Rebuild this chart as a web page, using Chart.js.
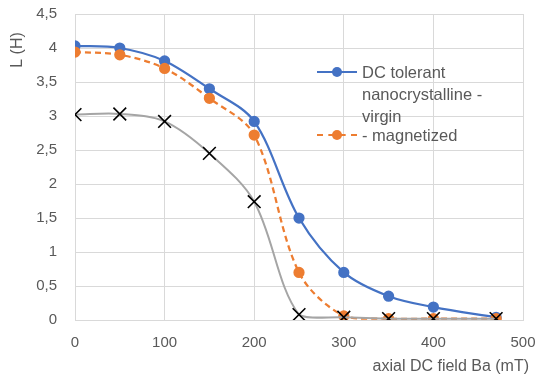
<!DOCTYPE html>
<html>
<head>
<meta charset="utf-8">
<script src="https://cdn.jsdelivr.net/npm/chart.js@4"></script>
<style>
  html, body { margin: 0; padding: 0; background: #fff; }
  #wrap { position: relative; width: 542px; height: 382px; }
  #legend { position: absolute; left: 317px; top: 61px; font-family: "Liberation Sans", sans-serif; font-size: 16.5px; color: #595959; line-height: 22px; }
  .item { position: relative; padding-left: 45px; }
  .sample { position: absolute; left: 0; top: 10px; width: 40px; height: 0; }
  .dot { position: absolute; left: 15px; top: -6px; width: 10px; height: 10px; border-radius: 50%; }
</style>
</head>
<body>
<div id="wrap">
  <canvas id="chart" width="542" height="382"></canvas>
  <div id="legend">
    <div class="item"><span class="sample" style="border-top: 2.25px solid #4472C4"><span class="dot" style="background:#4472C4"></span></span>DC tolerant<br>nanocrystalline -<br>virgin</div>
    <div class="item" style="margin-top:-3px"><span class="sample" style="border-top: 2.25px dashed #ED7D31"><span class="dot" style="background:#ED7D31"></span></span>- magnetized</div>
  </div>
</div>
<script>
const fieldValues = [0, 50, 100, 150, 200, 250, 300, 350, 400, 470]
const virginValues = [4.03, 4.0, 3.81, 3.4, 2.92, 1.5, 0.7, 0.35, 0.19, 0.04]
const magnetizedValues = [3.94, 3.9, 3.7, 3.26, 2.72, 0.7, 0.06, 0.02, 0.02, 0.02]
const referenceValues = [3.02, 3.03, 2.92, 2.45, 1.74, 0.08, 0.04, 0.02, 0.02, 0.02]
const xTicks = [0, 100, 200, 300, 400, 500]
const yTicks = [0, 0.5, 1, 1.5, 2, 2.5, 3, 3.5, 4, 4.5]
const xTitle = 'axial DC field Ba (mT)'
const yTitle = 'L (H)'

const toPoints = vals => fieldValues.map((x, i) => ({ x: x, y: vals[i] }))

// Excel-style axis titles: y at the top-left, x at the bottom-right
const axisTitles = {
    id: 'axisTitles',
    afterDraw(chart) {
        const c = chart.ctx
        c.save()
        c.fillStyle = '#595959'
        c.font = '16px "Liberation Sans"'
        c.textBaseline = 'middle'
        c.textAlign = 'right'
        c.fillText(xTitle, 529, 367)
        c.translate(18, 50)
        c.rotate(-Math.PI / 2)
        c.textAlign = 'center'
        c.fillText(yTitle, 0, 0)
        c.restore()
    }
}

document.addEventListener('DOMContentLoaded', () => {
    const ctx = document.getElementById('chart')
    new Chart(ctx, {
        type: 'scatter',
        data: {
            datasets: [
                {
                    label: 'reference',
                    data: toPoints(referenceValues),
                    showLine: true,
                    borderColor: '#A5A5A5',
                    borderWidth: 2,
                    tension: 0.33,
                    pointStyle: 'crossRot',
                    pointRadius: 9,
                    pointBorderColor: '#000000',
                    pointBorderWidth: 1.6,
                    order: 0
                },
                {
                    label: '- magnetized',
                    data: toPoints(magnetizedValues),
                    showLine: true,
                    borderColor: '#ED7D31',
                    borderWidth: 2.25,
                    borderDash: [6, 4],
                    tension: 0.33,
                    pointRadius: 4.5,
                    pointBackgroundColor: '#ED7D31',
                    pointBorderColor: '#ED7D31',
                    order: 1
                },
                {
                    label: 'DC tolerant nanocrystalline - virgin',
                    data: toPoints(virginValues),
                    showLine: true,
                    borderColor: '#4472C4',
                    borderWidth: 2.25,
                    tension: 0.33,
                    pointRadius: 4.5,
                    pointBackgroundColor: '#4472C4',
                    pointBorderColor: '#4472C4',
                    order: 2
                }
            ]
        },
        plugins: [axisTitles],
        options: {
            responsive: false,
            animation: false,
            layout: { padding: { top: 14, right: 19, left: 0, bottom: 0 } },
            plugins: {
                legend: { display: false },
                tooltip: { enabled: false }
            },
            scales: {
                x: {
                    type: 'linear',
                    min: 0,
                    max: 500,
                    afterBuildTicks: s => { s.ticks = xTicks.map(v => ({ value: v })) },
                    grid: { color: '#D9D9D9', drawTicks: false },
                    border: { color: '#D9D9D9' },
                    ticks: { color: '#595959', font: { family: 'Liberation Sans', size: 15 }, padding: 14, maxRotation: 0 },
                    afterFit: s => { s.height = 62; s.paddingLeft = 0; s.paddingRight = 0 }
                },
                y: {
                    min: 0,
                    max: 4.5,
                    afterBuildTicks: s => { s.ticks = yTicks.map(v => ({ value: v })) },
                    grid: { color: '#D9D9D9', drawTicks: false },
                    border: { color: '#D9D9D9' },
                    ticks: { color: '#595959', font: { family: 'Liberation Sans', size: 15 }, padding: 18,
                        callback: v => v.toString().replace('.', ',') },
                    afterFit: s => { s.width = 75; s.paddingTop = 0; s.paddingBottom = 0 }
                }
            }
        }
    })
})
</script>
</body>
</html>
